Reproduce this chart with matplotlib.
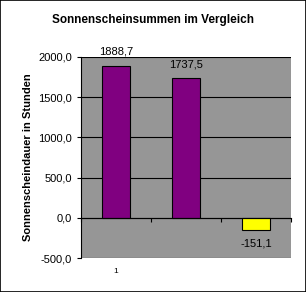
import matplotlib
matplotlib.use("Agg")
import matplotlib.pyplot as plt
from matplotlib.transforms import blended_transform_factory

plt.rcParams["font.family"] = ["Liberation Sans", "DejaVu Sans"]

# data
values = [1888.7, 1737.5, -151.1]
bar_colors = ["#800080", "#800080", "#FFFF00"]
categories = ["1", "", ""]
yticks = [-500, 0, 500, 1000, 1500, 2000]

fig = plt.figure(figsize=(3.06, 2.92), dpi=100)
fig.patch.set_facecolor("white")
ax = fig.add_axes([81 / 306, 1 - 258 / 292, 210 / 306, 201 / 292])
ax.set_facecolor("#969696")

x = list(range(len(values)))
bars = ax.bar(x, values, width=0.41, color=bar_colors, edgecolor="black", linewidth=0.8, zorder=3)

for xi, v in zip(x, values):
    txt = f"{v:.1f}".replace(".", ",")
    if v >= 0:
        ax.annotate(txt, (xi, v), xytext=(0, 6.5), textcoords="offset points",
                    ha="center", va="bottom", fontsize=8, annotation_clip=False)
    else:
        ax.annotate(txt, (xi, v), xytext=(0, -6), textcoords="offset points",
                    ha="center", va="top", fontsize=8)

ax.set_xlim(-0.5, 2.5)
ax.set_ylim(-500, 2000)
ax.set_yticks(yticks)
ax.set_yticklabels([f"{t:.1f}".replace(".", ",") for t in yticks], fontsize=8)
ax.yaxis.grid(True, color="black", linewidth=0.8, zorder=1)
ax.set_axisbelow(True)

ax.spines["top"].set_visible(False)
ax.spines["right"].set_visible(False)
ax.spines["bottom"].set_position(("data", 0))
ax.spines["bottom"].set_zorder(4)
ax.spines["left"].set_linewidth(0.8)
ax.spines["bottom"].set_linewidth(0.8)
ax.set_xticks([-0.5, 0.5, 1.5, 2.5])
ax.set_xticklabels([])
ax.tick_params(axis="both", direction="out", length=3, width=0.8)

trans = blended_transform_factory(ax.transData, ax.transAxes)
for xi, c in zip(x, categories):
    ax.text(xi, -0.05, c, transform=trans, ha="center", va="top", fontsize=6)

ax.set_ylabel("Sonnenscheindauer in Stunden", fontsize=8, fontweight="bold", labelpad=4)
fig.text(0.5, 1 - 20 / 292, "Sonnenscheinsummen im Vergleich", ha="center", va="center",
         fontsize=8.5, fontweight="bold")

fig.patches.append(plt.Rectangle((0.0015, 0.0015), 0.997, 0.997, transform=fig.transFigure,
                                 fill=False, edgecolor="black", linewidth=1.2))

fig.savefig("out.png", dpi=100)
